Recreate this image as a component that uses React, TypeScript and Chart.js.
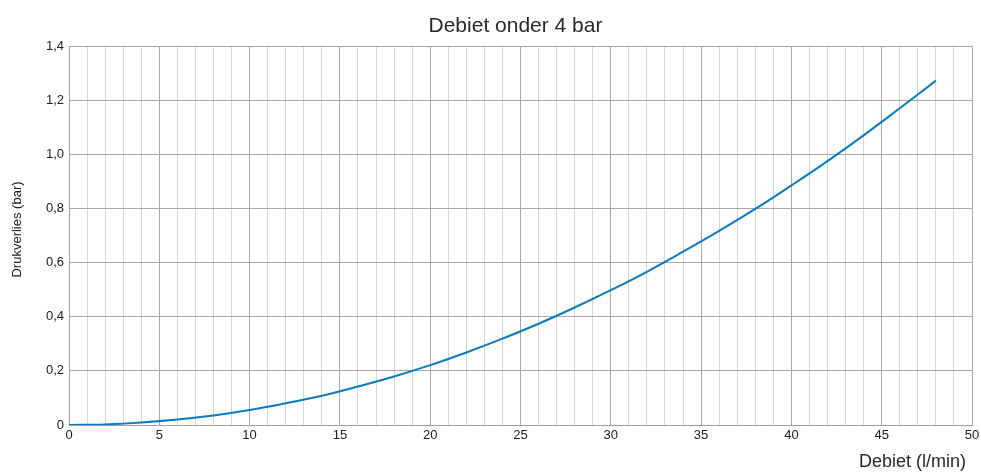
import React, { useEffect, useRef } from "react";
import { Chart, registerables } from "chart.js";

Chart.register(...registerables);

const flowValues = [0, 2, 4, 6, 8, 10, 12, 14, 16, 18, 20, 22, 24, 26, 28, 30, 32, 34, 36, 38, 40, 42, 44, 46, 48];
const pressureLoss = [0, 0.002, 0.009, 0.02, 0.035, 0.055, 0.08, 0.108, 0.142, 0.179, 0.221, 0.268, 0.319, 0.374, 0.434, 0.498, 0.566, 0.64, 0.717, 0.798, 0.885, 0.975, 1.07, 1.17, 1.272];
const yTickLabels = ["0", "0,2", "0,4", "0,6", "0,8", "1,0", "1,2", "1,4"];
const xTickLabels = ["0", "5", "10", "15", "20", "25", "30", "35", "40", "45", "50"];
const chartTitle = "Debiet onder 4 bar";
const xTitle = "Debiet (l/min)";
const yTitle = "Drukverlies (bar)";

const FONT = "'Liberation Sans', Arial, Helvetica, sans-serif";

const titlesPlugin = {
  id: "customTitles",
  afterDraw(chart: any) {
    const ctx = chart.ctx;
    const area = chart.chartArea;
    ctx.save();
    ctx.fillStyle = "#2a2a2a";
    ctx.font = `21px ${FONT}`;
    ctx.textAlign = "center";
    ctx.textBaseline = "alphabetic";
    ctx.fillText(chartTitle, (area.left + area.right) / 2 - 5, 32);

    ctx.font = `18px ${FONT}`;
    ctx.textAlign = "right";
    ctx.fillText(xTitle, area.right - 6, 467);

    ctx.fillStyle = "#222";
    ctx.font = `13px ${FONT}`;
    ctx.textAlign = "center";
    ctx.translate(21, (area.top + area.bottom) / 2 - 6);
    ctx.rotate(-Math.PI / 2);
    ctx.fillText(yTitle, 0, 0);
    ctx.restore();
  },
};

export default function App() {
  const ref = useRef<HTMLCanvasElement | null>(null);
  useEffect(() => {
    if (!ref.current) return;
    const chart = new Chart(ref.current, {
      type: "line",
      data: {
        datasets: [
          {
            data: flowValues.map((x, i) => ({ x, y: pressureLoss[i] })),
            borderColor: "#0b7cc6",
            borderWidth: 2,
            pointRadius: 0,
            tension: 0.4,
            fill: false,
          },
        ],
      },
      plugins: [titlesPlugin],
      options: {
        animation: false,
        responsive: false,
        maintainAspectRatio: false,
        layout: { padding: { left: 0, right: 9, top: 46, bottom: 0 } },
        plugins: {
          legend: { display: false },
          tooltip: { enabled: false },
          title: { display: false },
        },
        scales: {
          x: {
            type: "linear",
            min: 0,
            max: 50,
            afterFit: (s: any) => {
              s.height = 48;
              s.paddingLeft = 0;
              s.paddingRight = 9;
            },
            ticks: {
              stepSize: 1,
              autoSkip: false,
              maxRotation: 0,
              padding: 3,
              color: "#222",
              font: { family: FONT, size: 13 },
              callback: (v: any) => {
                const n = Number(v);
                return n % 5 === 0 ? xTickLabels[n / 5] : "";
              },
            },
            grid: {
              drawTicks: false,
              color: (ctx: any) => (ctx.tick && ctx.tick.value % 5 === 0 ? "#a9a9a9" : "#d6d6d6"),
              lineWidth: 1,
            },
            border: { color: "#a0a0a0" },
          },
          y: {
            type: "linear",
            min: 0,
            max: 1.4,
            afterFit: (s: any) => {
              s.width = 69;
              s.paddingTop = 0;
              s.paddingBottom = 0;
            },
            ticks: {
              stepSize: 0.2,
              padding: 5,
              color: "#222",
              font: { family: FONT, size: 13 },
              callback: (v: any) => yTickLabels[Math.round(Number(v) / 0.2)],
            },
            grid: {
              drawTicks: false,
              color: "#a9a9a9",
              lineWidth: 1,
            },
            border: { color: "#a0a0a0" },
          },
        },
      },
    });
    return () => chart.destroy();
  }, []);
  return (
    <div style={{ position: "fixed", left: 0, top: 0, width: 981, height: 473, background: "#fff" }}>
      <canvas ref={ref} width={981} height={473} style={{ width: 981, height: 473 }} />
    </div>
  );
}
